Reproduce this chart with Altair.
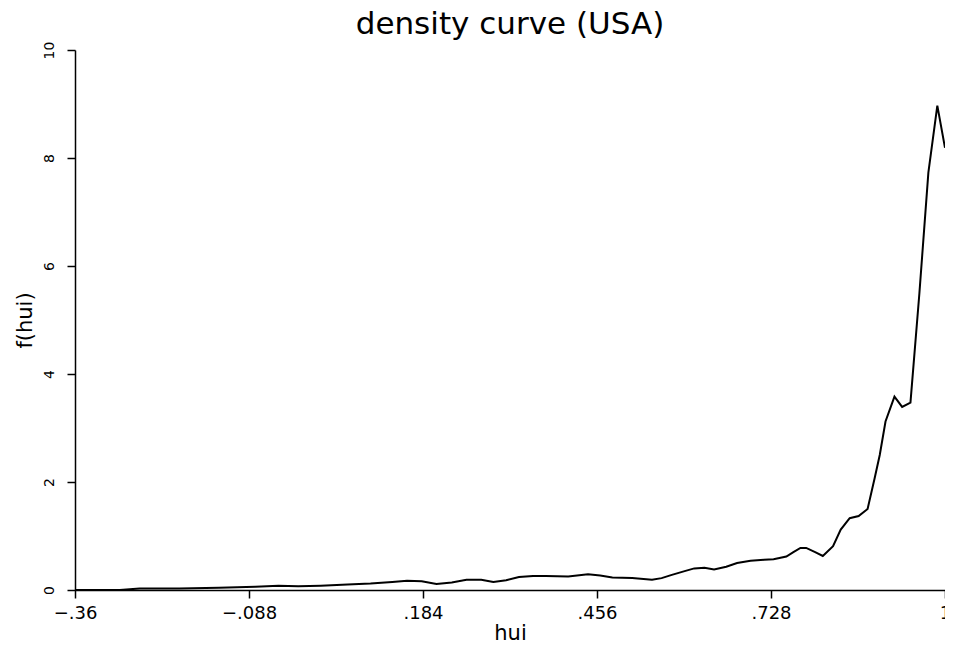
import altair as alt
import pandas as pd

hui = [-0.360, -0.321, -0.290, -0.259, -0.197, -0.135, -0.078, -0.042, -0.011, 0.024,
       0.066, 0.102, 0.136, 0.159, 0.182, 0.205, 0.229, 0.252, 0.275, 0.294,
       0.314, 0.334, 0.356, 0.376, 0.411, 0.442, 0.461, 0.480, 0.511, 0.542,
       0.557, 0.573, 0.593, 0.608, 0.624, 0.639, 0.658, 0.675, 0.696, 0.717,
       0.732, 0.752, 0.763, 0.774, 0.783, 0.797, 0.809, 0.825, 0.837, 0.851,
       0.865, 0.879, 0.890, 0.898, 0.907, 0.921, 0.933, 0.946, 0.960, 0.974,
       0.988, 1.000]
density = [0.00, 0.00, 0.00, 0.03, 0.03, 0.04, 0.06, 0.08, 0.07, 0.08,
           0.10, 0.12, 0.15, 0.17, 0.16, 0.11, 0.14, 0.19, 0.19, 0.15,
           0.18, 0.24, 0.26, 0.26, 0.25, 0.29, 0.27, 0.23, 0.22, 0.19,
           0.22, 0.28, 0.35, 0.40, 0.41, 0.38, 0.43, 0.50, 0.54, 0.56,
           0.57, 0.62, 0.70, 0.78, 0.78, 0.70, 0.63, 0.81, 1.12, 1.33,
           1.37, 1.50, 2.07, 2.50, 3.12, 3.58, 3.39, 3.47, 5.50, 7.73,
           8.97, 8.19]

x_ticks = [-0.36, -0.088, 0.184, 0.456, 0.728, 1.0]
y_ticks = [0, 2, 4, 6, 8, 10]

df = pd.DataFrame({"hui": hui, "f": density})

FONT = "DejaVu Sans"

chart = alt.Chart(df).mark_line(color="black", strokeWidth=2).encode(
    x=alt.X("hui:Q",
            scale=alt.Scale(domain=[-0.36, 1.0], nice=False, zero=False),
            axis=alt.Axis(values=x_ticks, title="hui", grid=False,
                          labelExpr="replace(replace(format(datum.value, '.3~f'), '0.', '.'), '-', '–')",
                          tickSize=8, labelPadding=6, titlePadding=0,
                          labelFontSize=18, titleFontSize=21,
                          labelFlush=False)),
    y=alt.Y("f:Q",
            scale=alt.Scale(domain=[0, 10], nice=False),
            axis=alt.Axis(values=y_ticks, title="f(hui)", grid=False,
                          tickSize=8, labelAngle=270, labelAlign="center",
                          labelBaseline="bottom", labelPadding=11,
                          titlePadding=7,
                          labelFontSize=14, titleFontSize=21)),
).properties(
    width=870, height=540,
    title=alt.TitleParams("density curve (USA)", fontSize=31, font=FONT,
                          fontWeight="normal", anchor="middle", offset=0,
                          color="black"),
    autosize=alt.AutoSizeParams(type="none"),
    padding={"left": 67, "top": 42, "right": 0, "bottom": 50},
).configure_axis(
    domainColor="black", tickColor="black", labelColor="black", titleColor="black",
    domainWidth=1.5, tickWidth=1.5,
    labelFont=FONT, titleFont=FONT, titleFontWeight="normal",
).configure_view(stroke=None)

chart.save("out.html", embed_options={"renderer": "svg", "actions": False})
